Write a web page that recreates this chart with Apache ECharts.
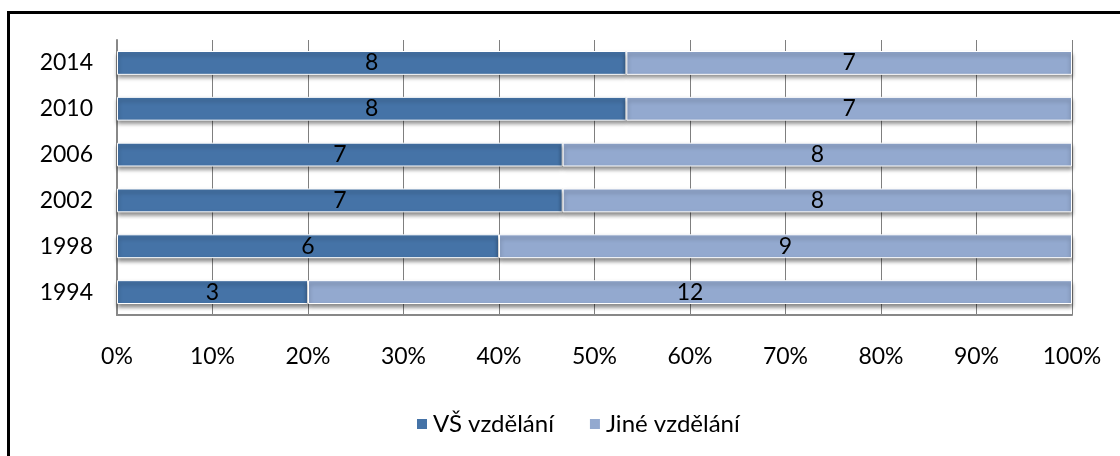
<!DOCTYPE html>
<html>
<head>
<meta charset="utf-8">
<script src="https://cdn.jsdelivr.net/npm/echarts@6/dist/echarts.min.js"></script>
<style>
  html, body { margin: 0; padding: 0; background: #fff; }
  #frame { position: absolute; left: 7px; top: 11px; width: 1200px; height: 500px; border: 3px solid #000; box-sizing: border-box; }
  #main { position: absolute; left: 0; top: 0; width: 1120px; height: 456px; }
</style>
</head>
<body>
<div id="frame"></div>
<div id="main"></div>
<script>
// roky odspodu nahoru
const years = ['1994', '1998', '2002', '2006', '2010', '2014']
const vsValues = [3, 6, 7, 7, 8, 8]
const otherValues = [12, 9, 8, 8, 7, 7]
const xTicks = [0, 10, 20, 30, 40, 50, 60, 70, 80, 90, 100]

const font = 'Lato, "Open Sans", sans-serif'

function toPct(vals) {
  return vals.map((v, k) => {
    const total = vsValues[k] + otherValues[k]
    return { value: v / total * 100, raw: v }
  })
}

let chart = echarts.init(document.getElementById('main'))

const barStyle = (color) => ({
  color: color,
  borderColor: '#fff',
  borderWidth: 1,
  shadowColor: 'rgba(0,0,0,0.45)',
  shadowBlur: 4,
  shadowOffsetY: 3
})

let option = {
  animation: false,
  textStyle: { fontFamily: font },
  grid: { left: 117, right: 48, top: 40, bottom: 141 },
  legend: {
    bottom: 15,
    left: 410,
    icon: 'rect',
    itemWidth: 12,
    itemHeight: 12,
    itemGap: 34,
    textStyle: { fontSize: 24, color: '#000', fontFamily: font }
  },
  xAxis: {
    type: 'value',
    min: xTicks[0],
    max: xTicks[xTicks.length - 1],
    interval: 10,
    axisLabel: { formatter: '{value}%', fontSize: 23, color: '#000', margin: 30 },
    axisLine: { show: true, lineStyle: { color: '#888', width: 2 } },
    axisTick: { show: false },
    splitLine: { show: true, lineStyle: { color: '#7f7f7f', width: 1 } }
  },
  yAxis: {
    type: 'category',
    data: years,
    axisLabel: { fontSize: 23, color: '#000', margin: 24 },
    axisLine: { show: true, lineStyle: { color: '#888', width: 2 } },
    axisTick: { show: false }
  },
  series: [
    {
      name: 'VŠ vzdělání',
      type: 'bar',
      stack: 'total',
      barWidth: '52%',
      data: toPct(vsValues),
      itemStyle: barStyle('#4573a7'),
      label: { show: true, position: 'inside', fontSize: 23, color: '#000', formatter: p => p.data.raw }
    },
    {
      name: 'Jiné vzdělání',
      type: 'bar',
      stack: 'total',
      barWidth: '52%',
      data: toPct(otherValues),
      itemStyle: barStyle('#93a9cf'),
      label: { show: true, position: 'inside', fontSize: 23, color: '#000', formatter: p => p.data.raw }
    }
  ]
}

chart.setOption(option)
</script>
</body>
</html>
